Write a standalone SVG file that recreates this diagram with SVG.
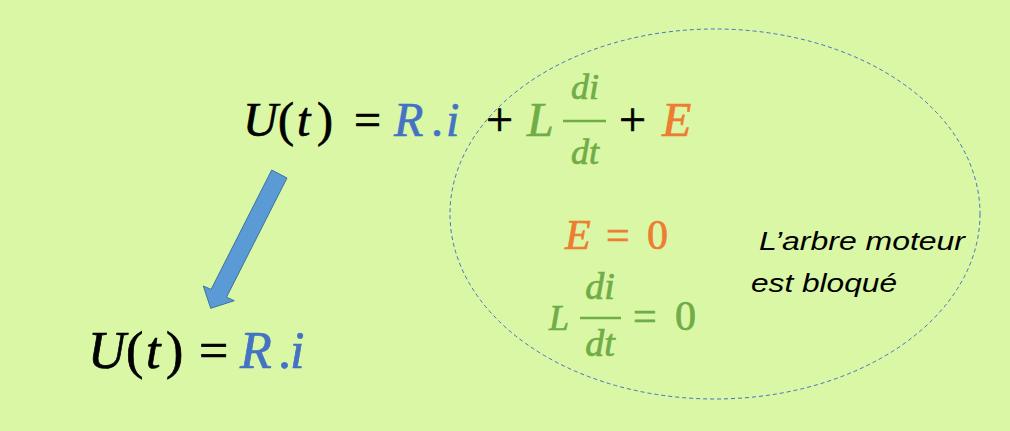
<svg xmlns="http://www.w3.org/2000/svg" width="1010" height="431" viewBox="0 0 1010 431">
<style>
.m{font-family:"Liberation Serif","DejaVu Serif",serif;stroke-width:0.7;}
.it{font-style:italic;}
.k{fill:#000;stroke:#000;}
.b{fill:#4472C4;stroke:#4472C4;}
.g{fill:#70AD47;stroke:#70AD47;}
.o{fill:#ED7D31;stroke:#ED7D31;}
.s{font-family:"Liberation Sans","DejaVu Sans",sans-serif;font-style:italic;font-size:26px;fill:#000;}
</style>
<rect width="1010" height="431" fill="#DAF7A6"/>
<g id="circle">
<ellipse cx="715" cy="214" rx="265" ry="185" fill="none" stroke="#4472C4" stroke-width="1" stroke-dasharray="4,3"/>
</g>
<g id="connectors">
<polygon points="271.7,170 287,178 226.5,297.2 234.3,300.7 210.7,308.3 203.3,286 211.1,289.4" fill="#5B9BD5" stroke="#41719C" stroke-width="1"/>
</g>
<g id="eq-top" class="m">
<text x="243" y="136" font-size="48" class="it k">U</text>
<text x="278" y="136" font-size="48" class="k">(</text>
<text x="297" y="136" font-size="48" class="it k">t</text>
<text x="317" y="136" font-size="48" class="k">)</text>
<text x="354" y="136" font-size="48" class="k">=</text>
<text x="394" y="136" font-size="48" class="it b">R</text>
<text x="431" y="136" font-size="48" class="b">.</text>
<text x="446" y="136" font-size="48" class="it b">i</text>
<text x="486" y="136" font-size="48" class="k">+</text>
<text x="527" y="136" font-size="48" class="it g">L</text>
<text x="585" y="99" font-size="36" class="it g" text-anchor="middle">di</text>
<line x1="563" y1="121" x2="606" y2="121" stroke="#70AD47" stroke-width="2.5"/>
<text x="585" y="164" font-size="36" class="it g" text-anchor="middle">dt</text>
<text x="619" y="136" font-size="48" class="k">+</text>
<text x="662" y="136" font-size="48" class="it o">E</text>
</g>
<g id="eq-bottom" class="m">
<text x="88" y="368" font-size="52" class="it k">U</text>
<text x="126" y="368" font-size="52" class="k">(</text>
<text x="146" y="368" font-size="52" class="it k">t</text>
<text x="166" y="368" font-size="52" class="k">)</text>
<text x="199" y="368" font-size="52" class="k">=</text>
<text x="240" y="368" font-size="52" class="it b">R</text>
<text x="278" y="368" font-size="52" class="b">.</text>
<text x="290" y="368" font-size="52" class="it b">i</text>
</g>
<g id="eq-e0" class="m">
<text x="565" y="249" font-size="42" class="it o">E</text>
<text x="606" y="249" font-size="42" class="o">=</text>
<text x="647" y="249" font-size="42" class="o">0</text>
</g>
<g id="eq-l0" class="m">
<text x="549" y="330" font-size="36" class="it g">L</text>
<text x="600" y="299" font-size="38" class="it g" text-anchor="middle">di</text>
<line x1="580" y1="318" x2="621" y2="318" stroke="#70AD47" stroke-width="2.5"/>
<text x="600" y="356" font-size="38" class="it g" text-anchor="middle">dt</text>
<text x="633" y="330" font-size="42" class="g">=</text>
<text x="675" y="330" font-size="42" class="g">0</text>
</g>
<g id="label">
<text x="759" y="250" class="s" textLength="206" lengthAdjust="spacingAndGlyphs">L’arbre moteur</text>
<text x="751" y="292" class="s" textLength="146" lengthAdjust="spacingAndGlyphs">est bloqué</text>
</g>
</svg>
